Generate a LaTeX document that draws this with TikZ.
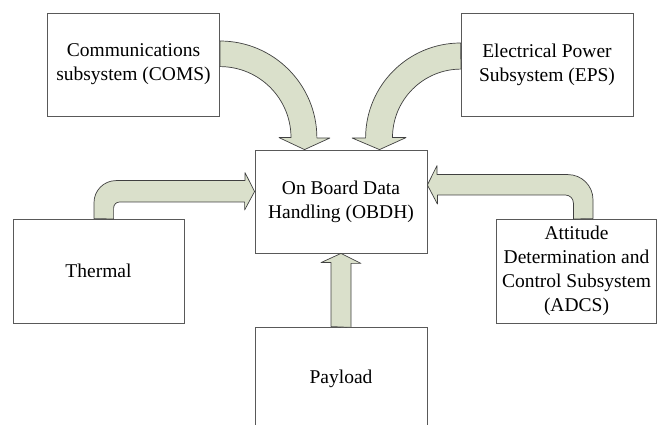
\documentclass[tikz,border=0pt]{standalone}
\usepackage{fontspec}
\setmainfont{Liberation Serif}
\usetikzlibrary{calc}

\definecolor{arrowgreen}{RGB}{218,224,203}

\begin{document}
\begin{tikzpicture}[x=1pt,y=1pt,
		unitbox/.style={draw=black!65,line width=0.8pt,minimum width=172pt,minimum height=103pt,
			align=center,inner sep=2pt,font=\fontsize{19.5}{24}\selectfont},
		blockarrow/.style={fill=arrowgreen,draw=black!75,line width=0.7pt,line join=round}
	]
	\useasboundingbox (0,0) rectangle (657,-425);
	\clip (0,0) rectangle (657,-425);

	\node[unitbox] (coms) at (133.5,-64.5) {Communications\\subsystem (COMS)};
	\node[unitbox] (eps) at (547,-64.5) {Electrical Power\\Subsystem (EPS)};
	\node[unitbox] (obdh) at (341,-201.5) {On Board Data\\Handling (OBDH)};
	\node[unitbox,minimum width=171pt,minimum height=104pt] (thermal) at (98.5,-271) {Thermal};
	\node[unitbox,minimum width=159.5pt,minimum height=104pt] (adcs) at (576.5,-271)
		{Attitude\\Determination and\\Control Subsystem\\(ADCS)};
	\node[unitbox] (payload) at (341,-378.5) {Payload};

	% curved arrows from the top
	\filldraw[blockarrow] ([yshift=23.5pt]coms.east) arc[start angle=90,end angle=0,radius=97pt]
		-- ++(13,0) -- ([xshift=-36.5pt]obdh.north) -- ++(-25.5,12) -- ++(12,0)
		arc[start angle=0,end angle=90,radius=71pt] -- cycle;

	\filldraw[blockarrow] ([yshift=21.5pt]eps.west) arc[start angle=90,end angle=180,radius=95pt]
		-- ++(-13.5,0) -- ([xshift=38.5pt]obdh.north) -- ++(26.5,12) -- ++(-13.5,0)
		arc[start angle=180,end angle=90,radius=68.5pt] -- cycle;

	% bent arrows from the sides
	\filldraw[blockarrow] ([xshift=-4.5pt]thermal.north) -- ++(0,16)
		arc[start angle=180,end angle=90,radius=22pt] -- ++(129,0) -- ++(0,8)
		-- ([yshift=10pt]obdh.west) -- ++(-10,-18.5) -- ++(0,8) -- ++(-125,0)
		arc[start angle=90,end angle=180,radius=6pt] -- ++(0,-11) -- cycle;

	\filldraw[blockarrow] ([xshift=16.5pt]adcs.north) -- ++(0,19)
		arc[start angle=0,end angle=90,radius=25pt] -- ++(-131,0) -- ++(0,9)
		-- ([yshift=16.5pt]obdh.east) -- ++(10,-19) -- ++(0,9) -- ++(128,0)
		arc[start angle=90,end angle=0,radius=8pt] -- ++(0,-16) -- cycle;

	% straight arrow from below
	\filldraw[blockarrow] ([xshift=-10pt]payload.north) -- ++(0,64) -- ++(-10,0)
		-- (obdh.south) -- ++(20,-10) -- ++(-10,0) -- ++(0,-64) -- cycle;
\end{tikzpicture}
\end{document}
